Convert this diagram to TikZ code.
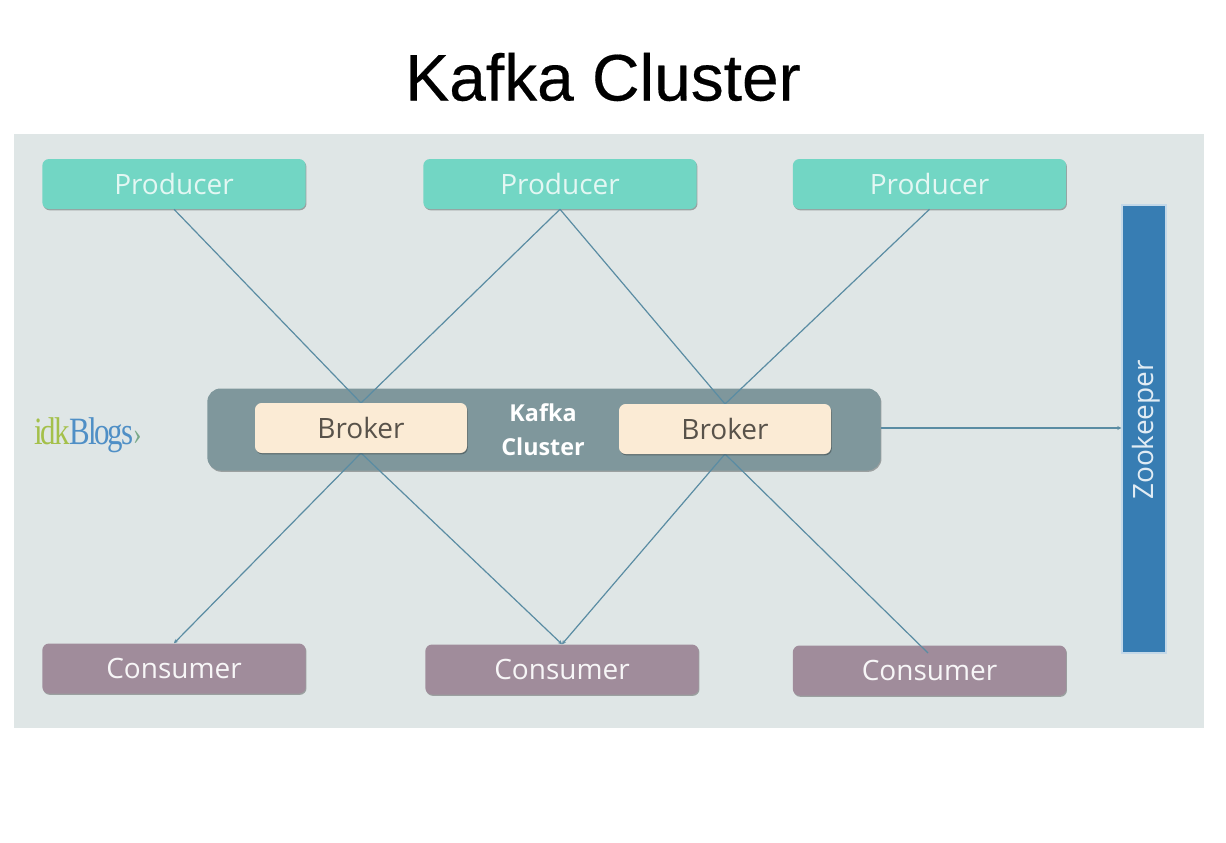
\documentclass[tikz,border=0pt]{standalone}
\usepackage{fontspec}
\setmainfont{Open Sans}
\newfontfamily\titlefont[FakeBold=0.3]{Liberation Sans}
\newfontfamily\logofont{Liberation Serif}
\usetikzlibrary{arrows.meta,shadows}
\definecolor{bgc}{HTML}{DFE6E6}
\definecolor{prodc}{HTML}{72D6C4}
\definecolor{brokc}{HTML}{FBEBD5}
\definecolor{clusc}{HTML}{7F979C}
\definecolor{consc}{HTML}{A08C9B}
\definecolor{zooc}{HTML}{377DB3}
\definecolor{linec}{HTML}{5A8CA3}
\definecolor{logog}{HTML}{A4C04A}
\definecolor{logob}{HTML}{4F8FC6}
\tikzset{
  px/.style={x=0.75pt,y=-0.75pt},
  softshadow/.style={drop shadow={shadow xshift=0.6pt,shadow yshift=-1pt,opacity=0.3,fill=black}},
  boxbase/.style={rounded corners=5pt,inner sep=0pt,softshadow},
  prodbox/.style={boxbase,fill=prodc,text=white!80!prodc,minimum width=197.5pt,minimum height=37.5pt,font=\fontsize{21pt}{24pt}\selectfont},
  prodbox2/.style={prodbox,minimum width=205pt},
  consbox/.style={boxbase,fill=consc,text=white!92!consc,minimum width=197.5pt,minimum height=37.5pt,font=\fontsize{21pt}{24pt}\selectfont},
  consbox2/.style={consbox,minimum width=205pt},
  brokbox/.style={boxbase,fill=brokc,text=black!65!brokc,minimum width=159pt,minimum height=37.5pt,font=\fontsize{21pt}{24pt}\selectfont},
  link/.style={draw=linec,line width=0.9pt},
  linktip/.style={link,-{Stealth[length=3pt,width=3pt]}},
}
\begin{document}
\begin{tikzpicture}[px]
\useasboundingbox (0,0) rectangle (1226,842);
\fill[bgc] (14,134) rectangle (1204,728);
\node[font=\titlefont\fontsize{49.4pt}{60pt}\selectfont,text=black] (title) at (603,77) {Kafka Cluster};
\node[rounded corners=10pt,fill=clusc,minimum width=505pt,minimum height=61.5pt,inner sep=0pt,softshadow] (cluster) at (544,429.5) {};
\node[draw=white!70!zooc,fill=zooc,line width=1pt,minimum width=33pt,minimum height=336pt,inner sep=0pt] (zoo) at (1144,429) {};
\node[text=white!85!zooc,rotate=90,font=\fontsize{21pt}{24pt}\selectfont] (zootext) at (1146,430) {Zookeeper};
\node[prodbox,anchor=center] (p1) at (174,184) {Producer};
\node[prodbox2] (p2) at (560,184) {Producer};
\node[prodbox2] (p3) at (929.5,184) {Producer};
\node[consbox] (c1) at (174,668.5) {Consumer};
\node[consbox2] (c2) at (562,669.5) {Consumer};
\node[consbox2] (c3) at (929.5,670.5) {Consumer};
\coordinate (b1t) at (361,403);
\coordinate (b1b) at (361,453);
\coordinate (b2t) at (725,404);
\coordinate (b2b) at (725,454);
\coordinate (c3end) at (928,653);
\draw[link] (p1.south) -- (b1t);
\draw[link] (p2.south) -- (b1t);
\draw[link] (p2.south) -- (b2t);
\draw[link] (p3.south) -- (b2t);
\draw[linktip] (b1b) -- (c1.north);
\draw[linktip] (b1b) -- (c2.north);
\draw[linktip] (b2b) -- (c2.north);
\draw[link] (b2b) -- (c3end);
\draw[linktip] (cluster.east |- 0,428) -- (zoo.west |- 0,428);
\node[brokbox] (b1) at (361,428) {Broker};
\node[brokbox] (b2) at (725,429) {Broker};
\node[text=white,align=center,font=\fontsize{17.5pt}{25.5pt}\selectfont\bfseries] (ctext) at (543,430) {Kafka\\Cluster};
\node[inner sep=0pt,xscale=0.8,font=\logofont\fontsize{29pt}{30pt}\selectfont] (logo) at (88,435) {\addfontfeature{LetterSpace=-7}\textcolor{logog}{idk}\textcolor{logob}{Blogs}\textcolor{logog!50!logob}{\fontsize{24pt}{24pt}\selectfont ›}};
\end{tikzpicture}
\end{document}
